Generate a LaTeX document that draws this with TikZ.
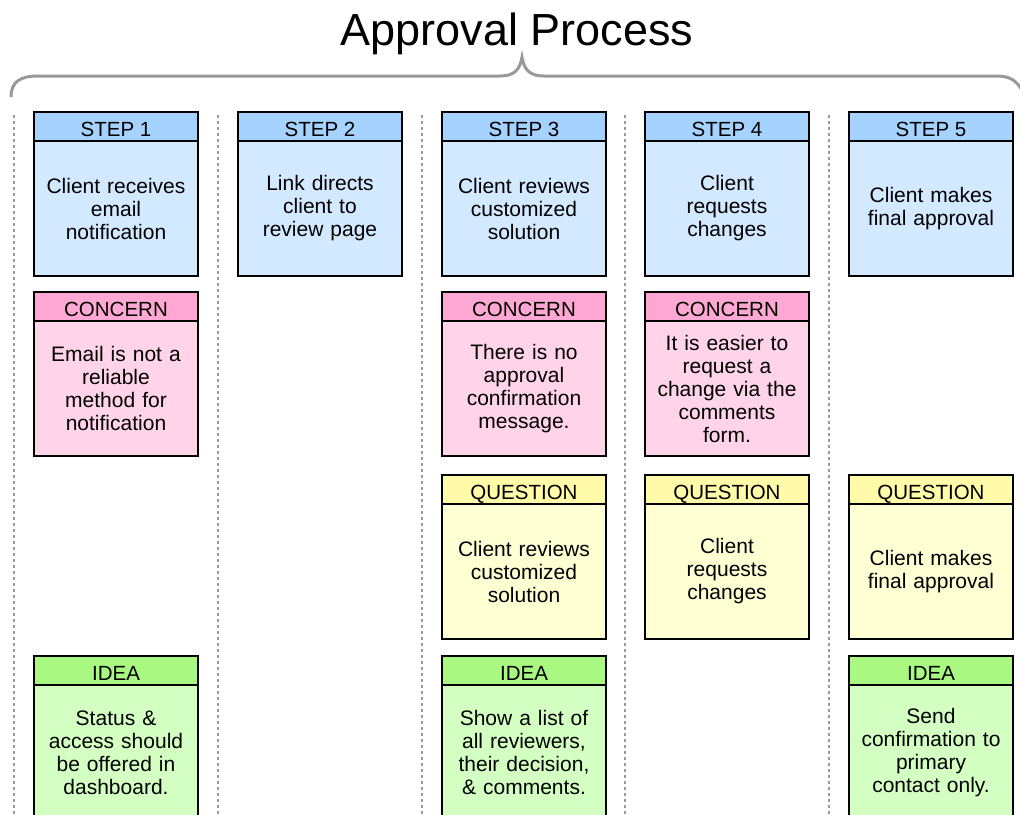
\documentclass[tikz,border=0pt]{standalone}
\usepackage{fontspec}
\setmainfont{Liberation Sans}
\usetikzlibrary{positioning}
\definecolor{stephead}{HTML}{A6D2FF}
\definecolor{stepbody}{HTML}{D3E9FF}
\definecolor{concernhead}{HTML}{FFA8D4}
\definecolor{concernbody}{HTML}{FFD4E9}
\definecolor{questionhead}{HTML}{FFFBA8}
\definecolor{questionbody}{HTML}{FFFFD4}
\definecolor{ideahead}{HTML}{A8F882}
\definecolor{ideabody}{HTML}{D4FFC2}
\definecolor{bracegray}{HTML}{999999}

\begin{document}
\begin{tikzpicture}[x=1pt, y=-1pt,
  head/.style={draw=black, line width=1.5pt, minimum width=164pt, minimum height=29pt,
               inner sep=0pt, outer sep=0pt, anchor=north, text height=20pt, text depth=0pt,
               font=\fontsize{20.5}{23}\selectfont},
  card/.style={draw=black, line width=1.5pt, minimum width=164pt, minimum height=135pt,
               inner sep=0pt, outer sep=0pt, text width=160pt, align=center,
               font=\fontsize{21}{23}\selectfont},
  divider/.style={bracegray, line width=1.6pt, dash pattern=on 3pt off 3pt},
  brace/.style={bracegray, line width=3pt}
]
  \useasboundingbox (0,0) rectangle (1020,814);
  \clip (0,0) rectangle (1020,814);

  % title and brace
  \node[font=\fontsize{45}{50}\selectfont, anchor=base] (title) at (517,45) {Approval Process};
  \draw[brace] (11,97) .. controls (11,82) and (20,76) .. (38,76) -- (500,76)
    .. controls (514,76) and (520,70) .. (522,57)
    .. controls (524,70) and (530,76) .. (544,76) -- (996,76)
    .. controls (1010,76) and (1017,80) .. (1024,94);

  % column dividers
  \foreach \x in {14, 218, 422, 625, 829}
    \draw[divider] (\x,115) -- (\x,814);

  % steps
  \node[head, fill=stephead] (s1h) at (116,112) {STEP 1};
  \node[card, fill=stepbody, below=0pt of s1h] (s1) {Client receives\\email\\notification};
  \node[head, fill=stephead] (s2h) at (320,112) {STEP 2};
  \node[card, fill=stepbody, below=0pt of s2h] (s2) {Link directs\\client to\\review page};
  \node[head, fill=stephead] (s3h) at (524,112) {STEP 3};
  \node[card, fill=stepbody, below=0pt of s3h] (s3) {Client reviews\\customized\\solution};
  \node[head, fill=stephead] (s4h) at (727,112) {STEP 4};
  \node[card, fill=stepbody, below=0pt of s4h] (s4) {Client\\requests\\changes};
  \node[head, fill=stephead] (s5h) at (931,112) {STEP 5};
  \node[card, fill=stepbody, below=0pt of s5h] (s5) {Client makes\\final approval};

  % concerns
  \node[head, fill=concernhead] (c1h) at (116,292) {CONCERN};
  \node[card, fill=concernbody, below=0pt of c1h] (c1) {Email is not a\\reliable\\method for\\notification};
  \node[head, fill=concernhead] (c3h) at (524,292) {CONCERN};
  \node[card, fill=concernbody, below=0pt of c3h] (c3) {There is no\\approval\\confirmation\\message.};
  \node[head, fill=concernhead] (c4h) at (727,292) {CONCERN};
  \node[card, fill=concernbody, below=0pt of c4h] (c4) {It is easier to\\request a\\change via the\\comments\\form.};

  % questions
  \node[head, fill=questionhead] (q3h) at (524,475) {QUESTION};
  \node[card, fill=questionbody, below=0pt of q3h] (q3) {Client reviews\\customized\\solution};
  \node[head, fill=questionhead] (q4h) at (727,475) {QUESTION};
  \node[card, fill=questionbody, below=0pt of q4h] (q4) {Client\\requests\\changes};
  \node[head, fill=questionhead] (q5h) at (931,475) {QUESTION};
  \node[card, fill=questionbody, below=0pt of q5h] (q5) {Client makes\\final approval};

  % ideas
  \node[head, fill=ideahead] (i1h) at (116,656) {IDEA};
  \node[card, fill=ideabody, below=0pt of i1h] (i1) {Status \&\\access should\\be offered in\\dashboard.};
  \node[head, fill=ideahead] (i3h) at (524,656) {IDEA};
  \node[card, fill=ideabody, below=0pt of i3h] (i3) {Show a list of\\all reviewers,\\their decision,\\\& comments.};
  \node[head, fill=ideahead] (i5h) at (931,656) {IDEA};
  \node[card, fill=ideabody, below=0pt of i5h] (i5) {Send\\confirmation to\\primary\\contact only.};
\end{tikzpicture}
\end{document}
